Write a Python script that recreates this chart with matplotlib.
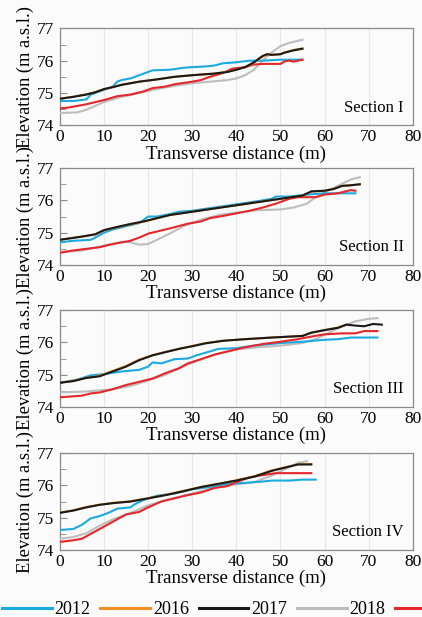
import matplotlib.pyplot as plt
from matplotlib.lines import Line2D

plt.rcParams['font.family'] = ['Liberation Serif', 'DejaVu Serif']

years = ['2012', '2016', '2017', '2018', '2019']
colors = ['#1ba9e1', '#f39020', '#1a1a1a', '#bdbdbd', '#e5262a']
sections = ['Section I', 'Section II', 'Section III', 'Section IV']

# ---- Section I ----
s1_blue_x = [0, 3, 6, 7, 8, 10, 12, 13, 14, 16, 18, 20, 21, 25, 28, 30, 33, 35, 37, 40, 43, 46, 50, 55]
s1_blue_y = [74.75, 74.75, 74.8, 74.95, 75.0, 75.1, 75.2, 75.35, 75.4, 75.45, 75.55, 75.65, 75.7, 75.72,
             75.78, 75.8, 75.82, 75.85, 75.92, 75.95, 76.0, 76.0, 76.03, 76.03]
s1_orange_x = [0, 3, 6, 8, 10, 12, 14, 18, 22, 26, 30, 35, 38, 40, 42, 44, 45, 47, 48, 50, 51, 53, 55]
s1_orange_y = [74.82, 74.88, 74.96, 75.03, 75.12, 75.18, 75.26, 75.35, 75.42, 75.5, 75.55, 75.6, 75.66,
               75.72, 75.8, 75.93, 76.05, 76.2, 76.18, 76.2, 76.26, 76.33, 76.38]
s1_black_x = [0, 3, 6, 8, 10, 12, 14, 18, 22, 26, 30, 35, 38, 40, 42, 44, 46, 47, 48, 50, 51, 53, 55]
s1_black_y = [74.82, 74.88, 74.95, 75.02, 75.12, 75.18, 75.25, 75.35, 75.42, 75.5, 75.55, 75.6, 75.65,
              75.72, 75.8, 75.95, 76.15, 76.2, 76.18, 76.2, 76.25, 76.32, 76.37]
s1_gray_x = [0, 4, 6, 8, 10, 14, 18, 22, 26, 30, 34, 38, 40, 42, 44, 46, 48, 50, 52, 55]
s1_gray_y = [74.38, 74.4, 74.48, 74.6, 74.72, 74.88, 75.0, 75.12, 75.22, 75.3, 75.35, 75.4, 75.45,
             75.55, 75.72, 76.0, 76.25, 76.45, 76.55, 76.65]
s1_red_x = [0, 2, 6, 10, 13, 16, 19, 21, 24, 26, 30, 32, 34, 37, 39, 42, 44, 46, 50, 51, 52, 53, 55]
s1_red_y = [74.52, 74.55, 74.65, 74.78, 74.9, 74.95, 75.05, 75.15, 75.2, 75.27, 75.35, 75.4, 75.5,
            75.62, 75.75, 75.8, 75.88, 75.9, 75.9, 75.98, 76.0, 75.97, 76.03]

# ---- Section II ----
s2_blue_x = [0, 3, 7, 8, 10, 12, 15, 18, 20, 22, 25, 27, 30, 35, 40, 45, 48, 49, 52, 56, 58, 60, 67]
s2_blue_y = [74.7, 74.75, 74.78, 74.85, 75.0, 75.1, 75.2, 75.3, 75.5, 75.5, 75.58, 75.65, 75.68, 75.78,
             75.88, 75.98, 76.05, 76.12, 76.12, 76.18, 76.2, 76.22, 76.22]
s2_orange_x = [0, 5, 8, 10, 13, 16, 19, 22, 25, 30, 35, 40, 45, 50, 55, 57, 60, 62, 64, 66, 68]
s2_orange_y = [74.78, 74.88, 74.95, 75.07, 75.17, 75.26, 75.34, 75.45, 75.55, 75.65, 75.75, 75.85,
               75.95, 76.05, 76.15, 76.27, 76.3, 76.36, 76.45, 76.47, 76.5]
s2_black_x = [0, 5, 8, 10, 13, 16, 19, 22, 25, 30, 35, 40, 45, 50, 55, 57, 60, 62, 64, 66, 68]
s2_black_y = [74.78, 74.88, 74.95, 75.08, 75.18, 75.27, 75.35, 75.45, 75.55, 75.65, 75.75, 75.85,
              75.95, 76.05, 76.15, 76.28, 76.3, 76.35, 76.45, 76.47, 76.5]
s2_gray_x = [0, 5, 10, 14, 16, 18, 20, 22, 25, 28, 32, 36, 40, 45, 50, 53, 56, 58, 60, 63, 66, 68]
s2_gray_y = [74.4, 74.45, 74.6, 74.72, 74.7, 74.63, 74.65, 74.78, 74.98, 75.2, 75.4, 75.55, 75.62,
             75.7, 75.72, 75.78, 75.9, 76.1, 76.25, 76.45, 76.65, 76.72]
s2_red_x = [0, 3, 6, 9, 11, 14, 16, 18, 20, 23, 26, 29, 32, 34, 37, 40, 43, 46, 49, 52, 54, 58, 60,
            63, 66, 67]
s2_red_y = [74.38, 74.45, 74.5, 74.55, 74.62, 74.7, 74.75, 74.85, 74.97, 75.07, 75.17, 75.28, 75.35,
            75.45, 75.52, 75.6, 75.68, 75.78, 75.9, 76.05, 76.1, 76.1, 76.18, 76.22, 76.32, 76.3]

# ---- Section III ----
s3_blue_x = [0, 4, 7, 10, 14, 18, 20, 21, 23, 26, 29, 31, 34, 36, 40, 44, 50, 55, 60, 63, 66, 72]
s3_blue_y = [74.75, 74.85, 74.98, 75.02, 75.1, 75.15, 75.25, 75.38, 75.35, 75.48, 75.5, 75.6, 75.72,
             75.8, 75.82, 75.9, 75.98, 76.02, 76.08, 76.1, 76.15, 76.15]
s3_orange_x = [0, 3, 6, 9, 12, 15, 18, 21, 24, 27, 30, 33, 37, 42, 48, 55, 57, 60, 63, 65]
s3_orange_y = [74.75, 74.81, 74.9, 74.97, 75.12, 75.27, 75.47, 75.6, 75.71, 75.8, 75.89, 75.98, 76.05,
               76.1, 76.15, 76.2, 76.3, 76.38, 76.46, 76.55]
s3_black_x = [0, 3, 6, 9, 12, 15, 18, 21, 24, 27, 30, 33, 37, 42, 48, 55, 57, 60, 63, 65, 67, 69, 71, 73]
s3_black_y = [74.75, 74.8, 74.9, 74.95, 75.1, 75.25, 75.45, 75.6, 75.7, 75.8, 75.88, 75.97, 76.05,
              76.1, 76.15, 76.2, 76.3, 76.38, 76.45, 76.55, 76.52, 76.5, 76.57, 76.55]
s3_gray_x = [0, 6, 12, 16, 20, 24, 28, 32, 36, 40, 45, 50, 55, 58, 61, 64, 67, 70, 72]
s3_gray_y = [74.45, 74.48, 74.55, 74.65, 74.82, 75.0, 75.25, 75.48, 75.65, 75.78, 75.85, 75.9, 75.98,
             76.1, 76.3, 76.5, 76.65, 76.73, 76.75]
s3_red_x = [0, 3, 5, 7, 9, 12, 15, 18, 21, 24, 27, 29, 32, 35, 38, 42, 46, 50, 54, 57, 60, 64, 67, 69, 72]
s3_red_y = [74.3, 74.33, 74.35, 74.42, 74.45, 74.55, 74.68, 74.78, 74.88, 75.05, 75.2, 75.35, 75.48,
            75.62, 75.72, 75.85, 75.95, 76.02, 76.1, 76.18, 76.25, 76.28, 76.28, 76.35, 76.35]

# ---- Section IV ----
s4_blue_x = [0, 3, 5, 7, 9, 11, 13, 16, 17, 19, 22, 26, 30, 34, 38, 42, 46, 48, 52, 55, 58]
s4_blue_y = [74.62, 74.65, 74.78, 74.98, 75.05, 75.15, 75.28, 75.32, 75.42, 75.55, 75.68, 75.75,
             75.88, 75.95, 76.05, 76.08, 76.12, 76.15, 76.15, 76.18, 76.18]
s4_orange_x = [0, 3, 6, 9, 12, 16, 20, 24, 28, 32, 36, 40, 44, 48, 51, 54, 57]
s4_orange_y = [75.16, 75.23, 75.33, 75.4, 75.46, 75.51, 75.6, 75.71, 75.83, 75.95, 76.05, 76.16,
               76.28, 76.46, 76.56, 76.65, 76.66]
s4_black_x = [0, 3, 6, 9, 12, 16, 20, 24, 28, 32, 36, 40, 44, 48, 51, 54, 57]
s4_black_y = [75.15, 75.22, 75.32, 75.4, 75.45, 75.5, 75.6, 75.7, 75.82, 75.95, 76.05, 76.15, 76.27,
              76.45, 76.55, 76.65, 76.65]
s4_gray_x = [0, 3, 6, 9, 12, 16, 20, 24, 28, 32, 36, 40, 44, 48, 51, 54, 56]
s4_gray_y = [74.35, 74.4, 74.52, 74.75, 74.95, 75.15, 75.38, 75.55, 75.68, 75.82, 75.95, 76.03,
             76.1, 76.3, 76.5, 76.7, 76.75]
s4_red_x = [0, 3, 5, 7, 9, 11, 13, 15, 18, 20, 23, 26, 29, 32, 35, 38, 40, 43, 46, 49, 57]
s4_red_y = [74.25, 74.3, 74.35, 74.5, 74.65, 74.8, 74.95, 75.1, 75.18, 75.32, 75.5, 75.6, 75.7,
            75.78, 75.92, 75.98, 76.1, 76.25, 76.32, 76.38, 76.38]

panels = [
    [(s1_blue_x, s1_blue_y), (s1_orange_x, s1_orange_y), (s1_black_x, s1_black_y),
     (s1_gray_x, s1_gray_y), (s1_red_x, s1_red_y)],
    [(s2_blue_x, s2_blue_y), (s2_orange_x, s2_orange_y), (s2_black_x, s2_black_y),
     (s2_gray_x, s2_gray_y), (s2_red_x, s2_red_y)],
    [(s3_blue_x, s3_blue_y), (s3_orange_x, s3_orange_y), (s3_black_x, s3_black_y),
     (s3_gray_x, s3_gray_y), (s3_red_x, s3_red_y)],
    [(s4_blue_x, s4_blue_y), (s4_orange_x, s4_orange_y), (s4_black_x, s4_black_y),
     (s4_gray_x, s4_gray_y), (s4_red_x, s4_red_y)],
]

# draw order: gray, blue, red, orange, black on top
order = [3, 0, 4, 1, 2]

fig = plt.figure(figsize=(4.22, 6.17), dpi=100, facecolor='#fbfbfb')
bottoms = [0.797, 0.5705, 0.3404, 0.1086]

for i in range(4):
    ax = fig.add_axes([0.142, bottoms[i], 0.836, 0.157])
    ax.set_facecolor('#fbfbfb')
    for k in order:
        x, y = panels[i][k]
        ax.plot(x, y, color=colors[k], lw=1.5, zorder=3)
    ax.set_xlim(0, 80)
    ax.set_ylim(74, 77)
    ax.set_xticks(range(0, 81, 10))
    ax.set_yticks([74, 75, 76, 77])
    ax.set_yticks([74.5, 75.5, 76.5], minor=True)
    ax.xaxis.grid(True, color='#e6e6e6', lw=0.8)
    ax.set_axisbelow(True)
    for sp in ax.spines.values():
        sp.set_color('#8a8a8a')
        sp.set_linewidth(0.9)
    ax.tick_params(axis='x', length=0, labelsize=12.5, pad=3)
    ax.tick_params(axis='y', which='both', direction='in', color='#8a8a8a', labelsize=12.5, pad=4)
    ax.tick_params(axis='y', which='major', length=5)
    ax.tick_params(axis='y', which='minor', length=4)
    ax.set_xlabel('Transverse distance (m)', fontsize=13.5, labelpad=0)
    ax.set_ylabel('Elevation (m a.s.l.)', fontsize=13.3, labelpad=2)
    ax.text(0.975, 0.10, sections[i], transform=ax.transAxes, ha='right', va='bottom', fontsize=12)

# the last entry (2019) runs off the right edge in the original, its label is not visible
handles = [Line2D([], [], color=c, lw=2.2) for c in colors]
labels = years[:4] + ['']
fig.legend(handles, labels, loc='center left', bbox_to_anchor=(-0.012, 0.012), ncol=5,
           frameon=False, fontsize=13, handlelength=2.75, handletextpad=0.15,
           columnspacing=0.55, borderaxespad=0)

fig.savefig('out.png', dpi=100, facecolor=fig.get_facecolor())
